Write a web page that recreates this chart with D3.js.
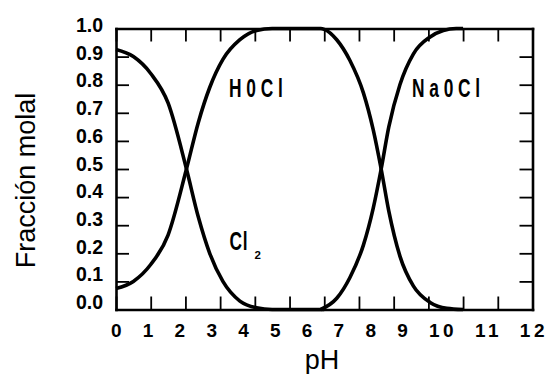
<!DOCTYPE html>
<html>
<head>
<meta charset="utf-8">
<script src="https://cdn.jsdelivr.net/npm/d3@7"></script>
<style>
  body { margin: 0; background: #fff; }
  svg { display: block; }
  text { font-family: "Liberation Sans", Arial, sans-serif; fill: #000; }
</style>
</head>
<body>
<svg id="chart" width="547" height="374"></svg>
<script>
// pH ticks and fraction ticks
const xTicks = [0, 1, 2, 3, 4, 5, 6, 7, 8, 9, 10, 11, 12];
const yTicks = [0, 0.1, 0.2, 0.3, 0.4, 0.5, 0.6, 0.7, 0.8, 0.9, 1.0];

// Cl2 fraction
const phCl2 = [0, 0.5, 1.0, 1.5, 2.03, 2.37, 2.7, 3.08, 3.57, 4.05, 4.5, 6.0];
const cl2 = [0.925, 0.9, 0.84, 0.735, 0.5, 0.33, 0.2, 0.1, 0.03, 0.006, 0, 0];

// HOCl
const phHOCl = [0, 0.5, 1.0, 1.5, 2.03, 2.37, 2.7, 3.08, 3.57, 4.05, 4.5, 5.9, 6.0, 6.36, 6.74, 7.13, 7.41, 7.64, 7.86, 8.18, 8.57, 9.05, 9.53, 10.0];
const hocl = [0.075, 0.1, 0.16, 0.265, 0.5, 0.665, 0.79, 0.89, 0.96, 0.993, 1, 1, 0.997, 0.96, 0.886, 0.77, 0.64, 0.5, 0.35, 0.19, 0.083, 0.025, 0.004, 0];

// NaOCl
const phNaOCl = [5.9, 6.36, 6.74, 7.13, 7.41, 7.64, 7.86, 8.18, 8.57, 9.05, 9.43, 9.8, 10.0];
const naocl = [0, 0.04, 0.114, 0.23, 0.36, 0.5, 0.65, 0.8, 0.91, 0.97, 0.993, 1, 1];

const svg = d3.select("#chart");

const x = d3.scaleLinear().domain([0, 12]).range([116, 532.5]);
const y = d3.scaleLinear().domain([0, 1]).range([309.5, 28.5]);
const tickLen = 13;

/////// frame with inside ticks ////////////////////////////////

function styleAxis(g) {
  g.select(".domain").attr("stroke-width", 2.6).attr("stroke-linecap", "square");
  g.selectAll(".tick line").attr("stroke-width", 1.8);
  g.selectAll(".tick text").remove();
}

svg.append("g")
  .attr("transform", "translate(0," + y(0) + ")")
  .call(d3.axisBottom(x).tickValues(xTicks).tickSize(-tickLen).tickSizeOuter(0))
  .call(styleAxis);
svg.append("g")
  .attr("transform", "translate(0," + y(1) + ")")
  .call(d3.axisTop(x).tickValues(xTicks).tickSize(-tickLen).tickSizeOuter(0))
  .call(styleAxis);
svg.append("g")
  .attr("transform", "translate(" + x(0) + ",0)")
  .call(d3.axisLeft(y).tickValues(yTicks).tickSize(-tickLen).tickSizeOuter(0))
  .call(styleAxis);
svg.append("g")
  .attr("transform", "translate(" + x(12) + ",0)")
  .call(d3.axisRight(y).tickValues(yTicks).tickSize(-tickLen).tickSizeOuter(0))
  .call(styleAxis);

// y tick labels: the original sets them a little tighter than the ticks
const yLab = d3.scaleLinear().domain([0, 1]).range([y(0) - 0.5, y(1) + 3.5]);
svg.append("g")
  .selectAll("text")
  .data(yTicks)
  .enter()
  .append("text")
  .attr("x", x(0) - 13)
  .attr("y", (d) => yLab(d))
  .attr("text-anchor", "end")
  .style("font-size", "19.5px")
  .style("font-weight", "bold")
  .text((d) => d.toFixed(1));

// x tick labels were typed as one spaced string in the original
svg.append("text")
  .attr("x", x(0) - 5)
  .attr("y", 337)
  .attr("textLength", x(12) + 12 - (x(0) - 5))
  .attr("lengthAdjust", "spacing")
  .style("white-space", "pre")
  .style("font-size", "19px")
  .style("font-weight", "bold")
  .text(xTicks.join("  "));

/////// curves ////////////////////////////////

const line = d3.line()
  .x((d) => x(d[0]))
  .y((d) => y(d[1]))
  .curve(d3.curveMonotoneX);

const series = [
  d3.zip(phCl2, cl2),
  d3.zip(phHOCl, hocl),
  d3.zip(phNaOCl, naocl),
];

svg.append("g")
  .selectAll("path")
  .data(series)
  .enter()
  .append("path")
  .attr("d", line)
  .attr("fill", "none")
  .attr("stroke", "#000")
  .attr("stroke-width", 3.6)
  .attr("stroke-linejoin", "round");

/////// species labels ////////////////////////////////

function species(txt, px, py, spacing) {
  return svg.append("text")
    .attr("transform", "translate(" + px + "," + py + ") scale(0.68,1)")
    .style("font-size", "25.5px")
    .style("font-weight", "bold")
    .style("letter-spacing", spacing + "px")
    .text(txt);
}
species("H0Cl", 229, 96.5, 7);
species("Na0Cl", 412, 96.5, 7);
species("Cl", 229.5, 250, 1);

svg.append("text")
  .attr("x", 254.5)
  .attr("y", 258.5)
  .style("font-size", "11.5px")
  .style("font-weight", "bold")
  .text("2");

/////// axis titles ////////////////////////////////

svg.append("text")
  .attr("transform", "translate(35,180.5) rotate(-90)")
  .attr("text-anchor", "middle")
  .style("font-size", "27px")
  .text("Fracción molal");

svg.append("text")
  .attr("x", 322)
  .attr("y", 368.5)
  .attr("text-anchor", "middle")
  .style("font-size", "27px")
  .text("pH");
</script>
</body>
</html>
